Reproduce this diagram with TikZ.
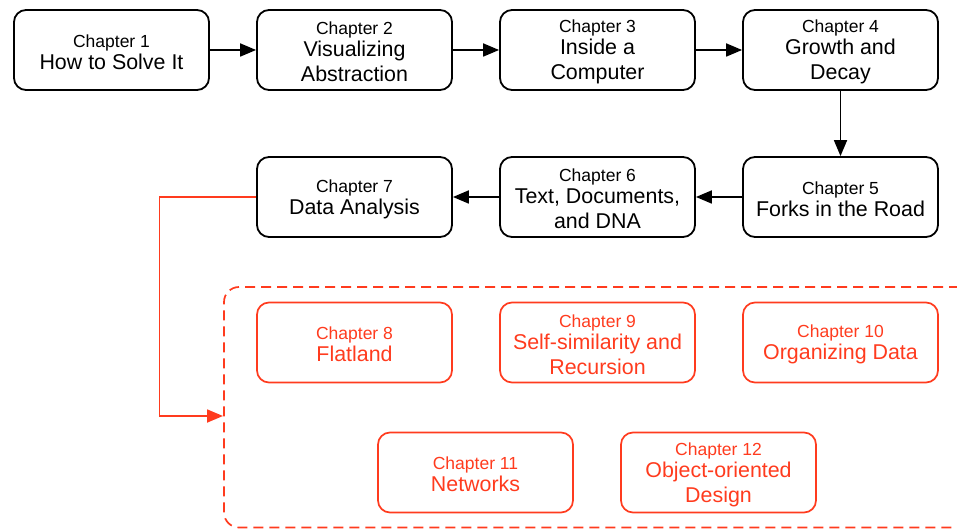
\documentclass[tikz,border=0pt]{standalone}
\usepackage{fontspec}
\setmainfont{Liberation Sans}
\usetikzlibrary{arrows.meta}
\definecolor{redc}{HTML}{FF3B1E}
\newcommand\chapfont{\fontsize{17.5}{22}\selectfont}
\newcommand\chapline[1]{{\chapfont\rule{0pt}{17pt}#1}}
\begin{document}
\begin{tikzpicture}[x=1pt,y=-1pt,
  chbox/.style={draw, line width=1.8pt, rounded corners=12pt, minimum width=195pt,
    minimum height=80pt, align=center, font=\fontsize{21.4}{25}\selectfont, inner sep=2pt},
  redbox/.style={chbox, draw=redc, text=redc, line width=1.7pt},
  arr/.style={line width=1.8pt, -{Triangle[length=16pt,width=13pt]}},
  region/.style={draw=redc, line width=1.7pt, dash pattern=on 10pt off 6pt, rounded corners=15pt}]
\useasboundingbox (0,0) rectangle (957,529);
% row 1
\node[chbox] (c1) at (111.5,50) {\chapline{Chapter 1}\\[-3pt]How to Solve It};
\node[chbox] (c2) at (354.5,50) {\chapline{Chapter 2}\\[-3pt]Visualizing\\Abstraction};
\node[chbox] (c3) at (597.5,50) {\chapline{Chapter 3}\\[-3pt]Inside a\\Computer};
\node[chbox] (c4) at (840.5,50) {\chapline{Chapter 4}\\[-3pt]Growth and\\Decay};
% row 2
\node[chbox] (c5) at (840.5,197) {\chapline{Chapter 5}\\[-3pt]Forks in the Road};
\node[chbox] (c6) at (597.5,197) {\chapline{Chapter 6}\\[-3pt]Text, Documents,\\and DNA};
\node[chbox] (c7) at (354.5,197) {\chapline{Chapter 7}\\[-3pt]Data Analysis};
% dashed region
\draw[region] (975,287) -- (224,287) -- (224,527.5) -- (975,527.5);
% red rows
\node[redbox] (c8) at (354.5,342.5) {\chapline{Chapter 8}\\[-3pt]Flatland};
\node[redbox] (c9) at (597.5,342.5) {\chapline{Chapter 9}\\[-3pt]Self-similarity and\\Recursion};
\node[redbox] (c10) at (840.5,342.5) {\chapline{Chapter 10}\\[-3pt]Organizing Data};
\node[redbox] (c11) at (475.5,472.5) {\chapline{Chapter 11}\\[-3pt]Networks};
\node[redbox] (c12) at (718.5,472.5) {\chapline{Chapter 12}\\[-3pt]Object-oriented\\Design};
% connectors
\draw[arr] (c1) -- (c2);
\draw[arr] (c2) -- (c3);
\draw[arr] (c3) -- (c4);
\draw[arr] (c4) -- (c5);
\draw[arr] (c5) -- (c6);
\draw[arr] (c6) -- (c7);
\coordinate (lft) at (159.5,416);
\coordinate (tgt) at (223,416);
\draw[arr, draw=redc] (c7.west) -- (c7.west -| lft) |- (tgt);
\end{tikzpicture}
\end{document}
